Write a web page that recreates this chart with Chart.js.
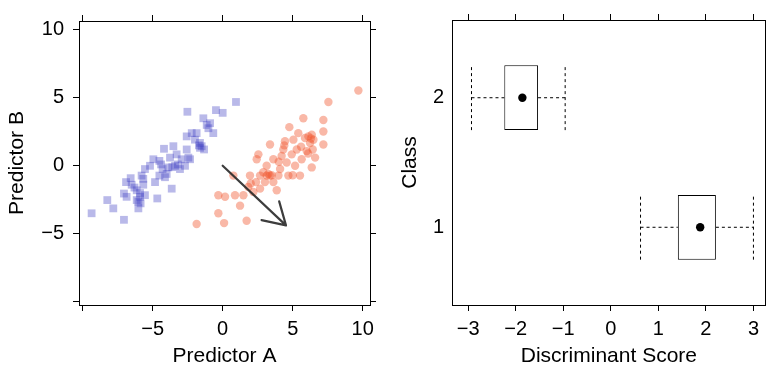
<!DOCTYPE html>
<html>
<head>
<meta charset="utf-8">
<script src="https://cdn.jsdelivr.net/npm/chart.js@4/dist/chart.umd.min.js"></script>
<style>
  html, body { margin: 0; padding: 0; background: #fff; }
  #wrap { position: relative; width: 770px; height: 369px; overflow: hidden; }
  canvas { position: absolute; top: 0; }
  #left { left: 0; }
  #right { left: 385px; }
</style>
</head>
<body>
<div id="wrap">
  <canvas id="left" width="385" height="369"></canvas>
  <canvas id="right" width="385" height="369"></canvas>
</div>
<script>
// ---------- Data: left panel (Predictor A vs Predictor B) ----------
const class2X = [-9.36,-8.24,-7.81,-7.05,-7.05,-6.86,-6.57,-6.5,-6.14,-6.02,-6.02,-5.9,-5.79,-5.67,-5.86,-5.55,-5.19,-4.95,-4.83,-4.67,-4.52,-4.29,-4.19,-4.12,-3.88,-3.76,-3.64,-3.52,-3.4,-3.29,-3.05,-2.93,-2.69,-2.57,-2.45,-2.57,-2.52,-2.33,-2.21,-1.98,-1.86,-1.62,-1.5,-1.33,-1.38,-1.14,-1.02,-0.9,-0.67,-0.48,0,0.95,-1.62,-4.0,-4.52,-5.55,-5.67,-6.14,-6.3,-5.9,-3.6,-3.2,-1.7,-6.9,-4.4];
const class2Y = [-3.49,-2.52,-3.13,-3.97,-2.04,-2.28,-0.91,-1.39,-1.8,-2.64,-3.13,-2.28,-0.72,-1.39,-2.76,-0.24,0,0.48,-1.2,-2.4,0.36,-0.24,1.25,-0.84,-0.12,0.6,-1.68,1.44,0,0.84,-0.24,0.48,0,1.2,0.6,2.16,3.97,0.48,2.4,1.92,2.4,1.68,1.44,1.2,3.49,3.0,2.76,3.13,2.4,4.09,3.89,4.69,1.32,-0.6,-0.72,-2.16,-0.96,-2.52,-1.6,-2.0,-0.1,0.1,1.5,-1.2,0.1];
const class1X = [-1.86,-0.31,0.1,-0.31,0.17,0.88,1.24,1.71,0.76,1.83,1.95,2.19,2.38,2.55,2.67,2.9,3.02,3.14,3.26,3.38,3.38,3.62,3.86,3.98,4.1,4.33,4.45,4.57,4.69,4.76,4.93,5.05,5.17,5.29,5.52,5.64,5.76,5.88,6.0,6.12,6.24,6.36,6.48,6.6,6.36,6.43,7.19,7.19,7.19,7.55,9.69,3.14,2.67,2.43,4.21,3.62,1.48,3.5,5.0,6.3,4.4,5.6,2.0,4.0,6.1,5.4];
const class1Y = [-4.28,-3.49,-4.21,-2.16,-2.28,-2.16,-2.93,-4.04,-0.72,-1.56,-0.72,-1.92,-1.2,0.84,-1.68,-0.48,-1.2,0,-0.6,-0.72,1.56,0.48,-1.8,-0.72,-0.24,1.2,1.8,0.24,-0.72,2.84,0.84,1.92,0,1.2,-0.72,0.48,3.49,2.04,1.08,2.16,1.68,2.28,1.92,0.6,-0.12,1.2,3.37,2.52,1.56,4.69,5.53,-0.72,-0.72,0.48,0.72,-1.2,-2.16,-0.7,-0.7,2.0,1.5,1.4,-1.3,0.3,0.9,2.4];
const arrowFrom = [0, 0];
const arrowTo = [4.52, -4.38];
const leftXTicks = [-10, -5, 0, 5, 10];
const leftXLabels = ['', '\u22125', '0', '5', '10'];
const leftYTicks = [-10, -5, 0, 5, 10];
const leftYLabels = ['', '\u22125', '0', '5', '10'];

// ---------- Data: right panel (Discriminant Score by Class) ----------
const classes = [1, 2];
const classLabels = ['1', '2'];
const whiskerLow = [0.625, -2.93];
const boxQ1 = [1.41, -2.24];
const boxMedian = [1.88, -1.86];
const boxQ3 = [2.21, -1.53];
const whiskerHigh = [3.0, -0.96];
const rightXTicks = [-3, -2, -1, 0, 1, 2, 3];
const rightXLabels = ['\u22123', '\u22122', '\u22121', '0', '1', '2', '3'];

// ---------- Styling ----------
const FONT = '"Liberation Sans", Arial, Helvetica, sans-serif';
const INK = '#000';
const TICK_FONT = { family: FONT, size: 20 };
const TITLE_FONT = { family: FONT, size: 21 };

function zip(xs, ys) { return xs.map((v, i) => ({ x: v, y: ys[i] })); }
function fixTicks(values) { return (scale) => { scale.ticks = values.map(v => ({ value: v })); }; }
function fixWidth(w) { return (scale) => { scale.width = w; }; }
function fixHeight(h) { return (scale) => { scale.height = h; }; }

function axisBase(extra) {
  return Object.assign({
    type: 'linear',
    offset: false,
    border: { display: true, color: INK, width: 1 },
    grid: { display: true, offset: false, drawOnChartArea: false, drawTicks: true, tickLength: 6, color: INK, tickColor: INK, lineWidth: 1 },
    ticks: { display: true, color: INK, font: TICK_FONT },
  }, extra);
}

const arrowPlugin = {
  id: 'arrow',
  afterDatasetsDraw(chart) {
    const { ctx, scales: { x, y } } = chart;
    const x0 = x.getPixelForValue(arrowFrom[0]), y0 = y.getPixelForValue(arrowFrom[1]);
    const x1 = x.getPixelForValue(arrowTo[0]), y1 = y.getPixelForValue(arrowTo[1]);
    const ang = Math.atan2(y1 - y0, x1 - x0);
    const headLen = 25, headAng = 0.54;
    ctx.save();
    ctx.strokeStyle = 'rgba(40,40,40,0.9)';
    ctx.lineWidth = 2.2;
    ctx.lineCap = 'round';
    ctx.lineJoin = 'round';
    ctx.beginPath();
    ctx.moveTo(x0, y0); ctx.lineTo(x1, y1);
    for (const s of [-1, 1]) {
      ctx.moveTo(x1, y1);
      ctx.lineTo(x1 - headLen * Math.cos(ang + s * headAng), y1 - headLen * Math.sin(ang + s * headAng));
    }
    ctx.stroke();
    ctx.restore();
  }
};

// ---------- Left chart ----------
const leftMin = { x: -10.26, y: -10.23 };
const leftMax = { x: 10.52, y: 10.64 };
new Chart(document.getElementById('left'), {
  type: 'scatter',
  data: {
    datasets: [
      { data: zip(class2X, class2Y), pointStyle: 'rect', pointRadius: 5.5, pointBorderWidth: 0,
        backgroundColor: 'rgba(60,60,195,0.36)', borderColor: 'rgba(0,0,0,0)' },
      { data: zip(class1X, class1Y), pointStyle: 'circle', pointRadius: 4.2, pointBorderWidth: 0,
        backgroundColor: 'rgba(240,85,45,0.42)', borderColor: 'rgba(0,0,0,0)' },
    ]
  },
  options: {
    responsive: false, animation: false, devicePixelRatio: 1,
    layout: { padding: 0 },
    plugins: { legend: { display: false }, tooltip: { enabled: false } },
    events: [],
    scales: {
      x: axisBase({ position: 'bottom', min: leftMin.x, max: leftMax.x,
        afterBuildTicks: fixTicks(leftXTicks), afterFit: fixHeight(64),
        ticks: { color: INK, font: TICK_FONT, padding: 6, maxRotation: 0, autoSkip: false, callback: (v, i) => leftXLabels[i] },
        title: { display: true, text: 'Predictor A', color: INK, font: TITLE_FONT, padding: { top: 0, bottom: 0 } } }),
      x2: axisBase({ position: 'top', min: leftMin.x, max: leftMax.x,
        afterBuildTicks: fixTicks(leftXTicks), afterFit: fixHeight(16),
        ticks: { display: false } }),
      y: axisBase({ position: 'left', min: leftMin.y, max: leftMax.y,
        afterBuildTicks: fixTicks(leftYTicks), afterFit: fixWidth(79),
        ticks: { color: INK, font: TICK_FONT, padding: 9, autoSkip: false, callback: (v, i) => leftYLabels[i] },
        title: { display: true, text: 'Predictor B', color: INK, font: TITLE_FONT, padding: { top: 5, bottom: 0 } } }),
      y2: axisBase({ position: 'right', min: leftMin.y, max: leftMax.y,
        afterBuildTicks: fixTicks(leftYTicks), afterFit: fixWidth(15),
        ticks: { display: false } }),
    }
  },
  plugins: [arrowPlugin]
});

// ---------- Right chart ----------
const rightMin = { x: -3.34, y: 0.4 };
const rightMax = { x: 3.26, y: 2.6 };
const CAP_HALF = 0.25;
const rightDatasets = [];
rightDatasets.push({
  type: 'bar', indexAxis: 'y',
  data: classes.map((c, i) => ({ x: [boxQ1[i], boxQ3[i]], y: c })),
  backgroundColor: '#fff', borderColor: INK, borderWidth: 1, borderSkipped: false,
  categoryPercentage: 1, barPercentage: 0.5, order: 1
});
classes.forEach((c, i) => {
  const dashed = { type: 'line', borderColor: INK, borderWidth: 1, borderDash: [3, 3], pointRadius: 0, fill: false, order: 2 };
  rightDatasets.push(Object.assign({ data: [{ x: whiskerLow[i], y: c }, { x: boxQ1[i], y: c }] }, dashed));
  rightDatasets.push(Object.assign({ data: [{ x: boxQ3[i], y: c }, { x: whiskerHigh[i], y: c }] }, dashed));
  rightDatasets.push(Object.assign({ data: [{ x: whiskerLow[i], y: c - CAP_HALF }, { x: whiskerLow[i], y: c + CAP_HALF }] }, dashed));
  rightDatasets.push(Object.assign({ data: [{ x: whiskerHigh[i], y: c - CAP_HALF }, { x: whiskerHigh[i], y: c + CAP_HALF }] }, dashed));
});
rightDatasets.push({
  type: 'scatter',
  data: classes.map((c, i) => ({ x: boxMedian[i], y: c })),
  pointStyle: 'circle', pointRadius: 4.2, backgroundColor: INK, borderColor: INK, pointBorderWidth: 0, order: 0
});

new Chart(document.getElementById('right'), {
  type: 'scatter',
  data: { datasets: rightDatasets },
  options: {
    responsive: false, animation: false, devicePixelRatio: 1,
    layout: { padding: 0 },
    plugins: { legend: { display: false }, tooltip: { enabled: false } },
    events: [],
    scales: {
      x: axisBase({ position: 'bottom', min: rightMin.x, max: rightMax.x, beginAtZero: false,
        afterBuildTicks: fixTicks(rightXTicks), afterFit: fixHeight(64),
        ticks: { color: INK, font: TICK_FONT, padding: 6, maxRotation: 0, autoSkip: false, callback: (v, i) => rightXLabels[i] },
        title: { display: true, text: 'Discriminant Score', color: INK, font: TITLE_FONT, padding: { top: 0, bottom: 0 } } }),
      x2: axisBase({ position: 'top', min: rightMin.x, max: rightMax.x,
        afterBuildTicks: fixTicks(rightXTicks), afterFit: fixHeight(17),
        ticks: { display: false } }),
      y: axisBase({ position: 'left', min: rightMin.y, max: rightMax.y,
        afterBuildTicks: fixTicks(classes), afterFit: fixWidth(67),
        grid: { display: true, offset: false, drawOnChartArea: false, drawTicks: false, color: INK },
        ticks: { color: INK, font: TICK_FONT, padding: 8, autoSkip: false, callback: (v, i) => classLabels[i] },
        title: { display: true, text: 'Class', color: INK, font: TITLE_FONT, padding: { top: 13, bottom: 0 } } }),
      y2: axisBase({ position: 'right', min: rightMin.y, max: rightMax.y,
        afterBuildTicks: fixTicks(classes), afterFit: fixWidth(1),
        grid: { display: true, offset: false, drawOnChartArea: false, drawTicks: false, color: INK },
        ticks: { display: false } }),
    }
  }
});
</script>
</body>
</html>
